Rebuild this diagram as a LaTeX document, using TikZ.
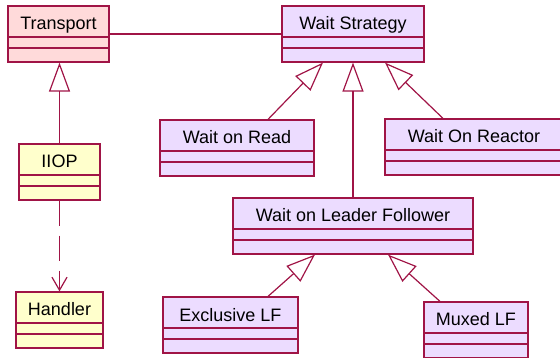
\documentclass[tikz,border=0pt]{standalone}
\usepackage{fontspec}
\setmainfont{Liberation Sans}
\usetikzlibrary{arrows.meta}
\definecolor{umlline}{RGB}{160,20,70}
\definecolor{umlpink}{RGB}{255,218,218}
\definecolor{umlyellow}{RGB}{255,255,204}
\definecolor{umllilac}{RGB}{236,220,255}
\tikzstyle{block} = [rectangle, draw=umlline, line width=1.2pt, inner sep=0pt, minimum height=56pt, text height=24pt, text depth=32pt, font=\fontsize{18}{20}\selectfont,
  path picture={\draw[umlline, line width=1.2pt] ([yshift=-31pt]path picture bounding box.north west) -- ([yshift=-31pt]path picture bounding box.north east)
    ([yshift=-42pt]path picture bounding box.north west) -- ([yshift=-42pt]path picture bounding box.north east);}]
\tikzstyle{blockt} = [block, fill=umlpink]
\tikzstyle{blocky} = [block, fill=umlyellow]
\tikzstyle{blockw} = [block, fill=umllilac]
\tikzstyle{line} = [draw=umlline, line width=1.2pt]
\tikzstyle{inherit} = [line, -{Triangle[open, length=29pt, width=21pt]}]
\tikzstyle{depend} = [line, dash pattern=on 25pt off 10pt, -{Straight Barb[length=13pt, width=15pt]}]

\begin{document}
\begin{tikzpicture}[x=1pt, y=-1pt]
\clip (0,0) rectangle (560,358);

\node [blockt, minimum width=101pt] (Transport) at (58.5,34) {Transport};
\node [blocky, minimum width=81pt] (IIOP) at (59.5,172) {IIOP};
\node [blocky, minimum width=87pt] (Handler) at (59.5,320) {Handler};

\node [blockw, minimum width=142pt] (WS) at (353,34) {Wait Strategy};
\node [blockw, minimum width=154pt] (WRead) at (237,148) {Wait on Read};
\node [blockw, minimum width=178pt] (WReactor) at (474,147) {Wait On Reactor};
\node [blockw, minimum width=240pt] (WLF) at (353,226) {Wait on Leader Follower};
\node [blockw, minimum width=135pt] (ExLF) at (230.5,325) {Exclusive LF};
\node [blockw, minimum width=104pt] (MuxLF) at (476,330) {Muxed LF};

\path [line] (Transport) -- (WS);
\path [inherit] (IIOP.north) -- (IIOP.north |- Transport.south);
\path [depend] (IIOP) -- (Handler);

\path [inherit] ([xshift=31pt]WRead.north) -- ([xshift=-30pt]WS.south);
\path [inherit] ([xshift=-31pt]WReactor.north) -- ([xshift=32pt]WS.south);
\path [inherit] (WLF) -- (WS);
\path [inherit] ([xshift=37.5pt]ExLF.north) -- ([xshift=-38pt]WLF.south);
\path [inherit] ([xshift=-36pt]MuxLF.north) -- ([xshift=35pt]WLF.south);

\end{tikzpicture}
\end{document}
